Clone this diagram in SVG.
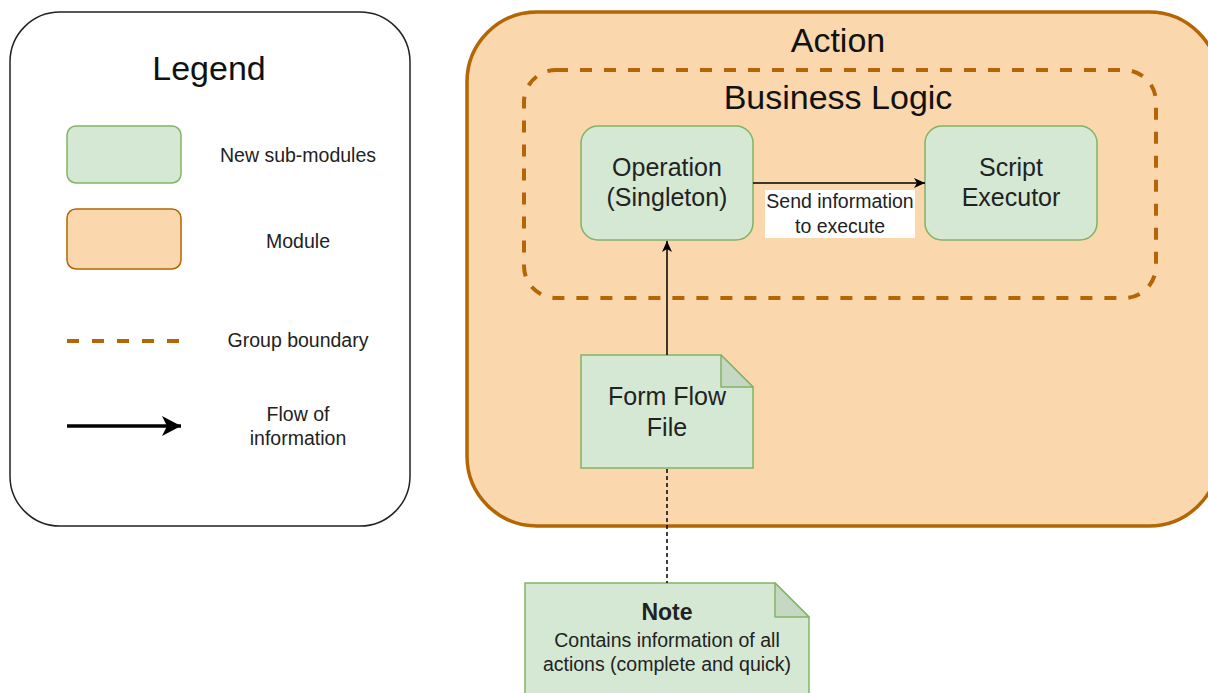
<svg xmlns="http://www.w3.org/2000/svg" width="1208" height="693" viewBox="0 0 1208 693">
  <style>
    .txt { font-family: "Liberation Sans", Arial, sans-serif; fill: #222; text-anchor: middle; }
    .title { font-size: 34px; fill: #111; }
    .big { font-size: 25px; }
    .small { font-size: 19.5px; }
    .green { fill: #d5e8d4; stroke: #82b366; stroke-width: 1.5; }
    .orange { fill: #fad7ac; stroke: #b46504; stroke-width: 1.5; }
    .fold { fill: #c5d8c4; stroke: #82b366; stroke-width: 1.5; stroke-linejoin: round; }
    .flow { fill: none; stroke: #000; stroke-width: 1.5; }
  </style>
  <defs>
    <marker id="arrow" markerUnits="userSpaceOnUse" viewBox="0 0 12 12" refX="11" refY="6" markerWidth="12" markerHeight="12" orient="auto">
      <path d="M0,1 L11,6 L0,11 L3,6 Z" fill="#000"/>
    </marker>
    <marker id="arrowBig" markerUnits="userSpaceOnUse" viewBox="0 0 20 22" refX="19" refY="11" markerWidth="20" markerHeight="22" orient="auto">
      <path d="M0,1 L19,11 L0,21 L5,11 Z" fill="#000"/>
    </marker>
  </defs>

  <!-- Legend panel -->
  <g id="legend">
    <rect x="10" y="12" width="400" height="514" rx="50" ry="50" fill="#fff" stroke="#222" stroke-width="1.5"/>
    <text class="txt title" x="209" y="80">Legend</text>
    <rect class="green" x="67" y="126" width="114" height="57" rx="9"/>
    <text class="txt small" x="298" y="162">New sub-modules</text>
    <rect class="orange" x="67" y="209" width="114" height="60" rx="9"/>
    <text class="txt small" x="298" y="248">Module</text>
    <line x1="67" y1="341" x2="181" y2="341" stroke="#b46504" stroke-width="4" stroke-dasharray="12 13"/>
    <text class="txt small" x="298" y="347">Group boundary</text>
    <line x1="67" y1="426" x2="181" y2="426" stroke="#000" stroke-width="3.5" marker-end="url(#arrowBig)"/>
    <text class="txt small" x="298" y="421">Flow of</text>
    <text class="txt small" x="298" y="445">information</text>
  </g>

  <!-- Action module -->
  <g id="action">
    <rect x="467" y="12" width="752" height="514" rx="70" ry="70" fill="#fad7ac" stroke="#b46504" stroke-width="3.5"/>
    <text class="txt title" x="838" y="52">Action</text>
  </g>

  <!-- Business Logic group boundary -->
  <g id="business-logic">
    <rect x="524" y="70" width="632" height="228" rx="32" ry="32" fill="none" stroke="#b46504" stroke-width="4" stroke-dasharray="12 12"/>
    <text class="txt title" x="838" y="109">Business Logic</text>
  </g>

  <g id="operation">
    <rect class="green" x="581" y="126" width="172" height="114" rx="17"/>
    <text class="txt big" x="667" y="176">Operation</text>
    <text class="txt big" x="667" y="206">(Singleton)</text>
  </g>

  <g id="script-executor">
    <rect class="green" x="925" y="126" width="172" height="114" rx="17"/>
    <text class="txt big" x="1011" y="176">Script</text>
    <text class="txt big" x="1011" y="206">Executor</text>
  </g>

  <g id="form-flow-file">
    <path class="green" d="M581,355 H721 L753,387 V468 H581 Z"/>
    <path class="fold" d="M721,355 V387 H753 Z"/>
    <text class="txt big" x="667" y="405">Form Flow</text>
    <text class="txt big" x="667" y="436">File</text>
  </g>

  <g id="note">
    <path class="green" d="M525,583 H775 L809,617 V700 H525 Z"/>
    <path class="fold" d="M775,583 V617 H809 Z"/>
    <text class="txt" x="667" y="620" font-size="23px" font-weight="bold" fill="#111">Note</text>
    <text class="txt small" x="667" y="647">Contains information of all</text>
    <text class="txt small" x="667" y="671">actions (complete and quick)</text>
  </g>

  <!-- Connectors -->
  <g id="connectors">
    <line class="flow" x1="753" y1="183" x2="925" y2="183" marker-end="url(#arrow)"/>
    <rect x="765" y="190" width="150" height="48" fill="#fff"/>
    <text class="txt small" x="840" y="208" fill="#111">Send information</text>
    <text class="txt small" x="840" y="233" fill="#111">to execute</text>
    <line class="flow" x1="667" y1="355" x2="667" y2="241" marker-end="url(#arrow)"/>
    <line x1="667" y1="469" x2="667" y2="583" stroke="#000" stroke-width="1.5" stroke-dasharray="4 3"/>
  </g>
</svg>
